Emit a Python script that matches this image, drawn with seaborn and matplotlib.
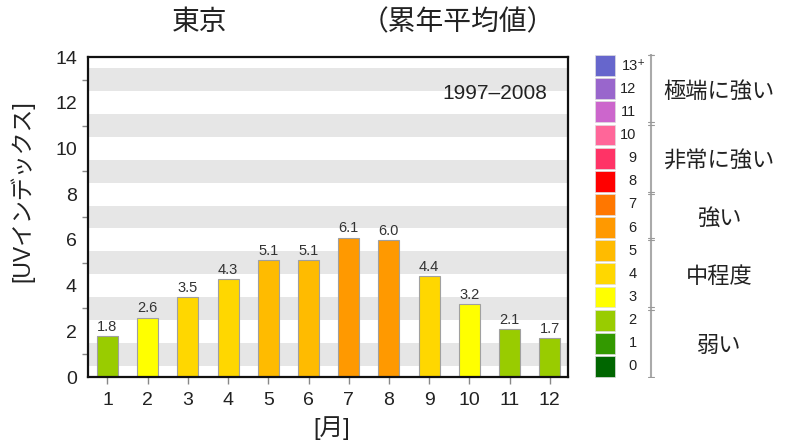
import matplotlib
matplotlib.use("Agg")
import matplotlib.pyplot as plt
import seaborn as sns
import numpy as np

# monthly mean UV index, Tokyo 1997-2008
months = [str(m) for m in range(1, 13)]
uv_index = [1.8, 2.6, 3.5, 4.3, 5.1, 5.1, 6.1, 6.0, 4.4, 3.2, 2.1, 1.7]

# UV index scale (0 .. 13+)
levels = list(range(14))
level_labels = ["0", "1", "2", "3", "4", "5", "6", "7", "8", "9", "10", "11", "12", "13\u207a"]
level_colors = ["#006600", "#339900", "#99cc00", "#ffff00", "#ffd700", "#ffbb00", "#ff9900",
                "#ff7700", "#ff0000", "#ff3366", "#ff6699", "#cc66cc", "#9966cc", "#6666cc"]
groups = ["弱い", "中程度", "強い", "非常に強い", "極端に強い"]
group_ranges = [(0, 2), (3, 5), (6, 7), (8, 10), (11, 13)]

sns.set_style("white")
fonts = ["Liberation Sans", "DejaVu Sans", "Noto Sans CJK JP"]
plt.rcParams["font.family"] = fonts

fig = plt.figure(figsize=(7.95, 4.42), dpi=100)
ax = fig.add_axes([88 / 795, 65 / 442, 480 / 795, 320 / 442])

# grey stripes
for lo in np.arange(0.5, 14, 2):
    ax.axhspan(lo, lo + 1, color="#e6e6e6", lw=0, zorder=0)

palette = {m: level_colors[int(np.floor(v + 0.5))] for m, v in zip(months, uv_index)}
sns.barplot(x=months, y=uv_index, hue=months, palette=palette, legend=False,
            width=0.52, edgecolor="#a0a0a0", linewidth=0.8, saturation=1, ax=ax, zorder=2)
for c in ax.containers:
    ax.bar_label(c, fmt="%.1f", padding=1.5, fontsize=10.5, color="#333333")

ax.set_xlim(-0.485, 11.455)
ax.set_ylim(0, 14)
ax.set_yticks(range(0, 15, 2))
ax.set_yticks(range(1, 14, 2), minor=True)
ax.tick_params(axis="both", which="major", direction="out", length=5, width=1,
               color="#888888", labelsize=14, labelcolor="#222222", pad=3)
ax.tick_params(axis="x", pad=6)
ax.tick_params(axis="y", which="minor", direction="out", length=4, width=1, color="#888888", left=True)
ax.tick_params(axis="x", bottom=True)
for s in ax.spines.values():
    s.set_visible(True)
    s.set_color("#111111")
    s.set_linewidth(1.6)
ax.set_xlabel("")
ax.set_ylabel("")

ax.text(0.957, 0.885, "1997\u20132008", transform=ax.transAxes, ha="right", va="center",
        fontsize=15, color="#222222")

fig.text(200 / 795, 1 - 23 / 442, "東京", ha="center", va="center", fontsize=20, color="#222222")
fig.text(458 / 795, 1 - 23 / 442, "（累年平均値）", ha="center", va="center", fontsize=20, color="#222222")
fig.text(22 / 795, 1 - 191 / 442, "[UVインデックス]", rotation=90, ha="center", va="center",
         fontsize=16.5, color="#222222")
fig.text(332 / 795, 1 - 428 / 442, "[月]", ha="center", va="center", fontsize=17, color="#222222")

# UV scale legend
lg = fig.add_axes([595 / 795, 64 / 442, 200 / 795, 324 / 442])
lg.set_xlim(0, 200)
lg.set_ylim(-0.5, 13.5)
lg.barh(levels, 20, left=0, height=0.9, color=level_colors, edgecolor="#dddddd", linewidth=0.5)
for lv, lab in zip(levels, level_labels):
    if lv < 13:
        lg.text(41.5, lv, lab, ha="right", va="center", fontsize=10.5, color="#222222")
    else:
        lg.text(27, lv, lab, ha="left", va="center", fontsize=10.5, color="#222222")
lg.plot([56, 56], [-0.5, 13.5], color="#aaaaaa", lw=1.5)
for b in [-0.5, 2.5, 5.5, 7.5, 10.5, 13.5]:
    lg.plot([53, 59], [b + 0.05, b + 0.05], color="#999999", lw=0.8)
    lg.plot([53, 59], [b - 0.05, b - 0.05], color="#999999", lw=0.8)
for name, (a, b) in zip(groups, group_ranges):
    lg.text(124, (a + b) / 2 - 0.15, name, ha="center", va="center", fontsize=16, color="#222222")
lg.axis("off")

fig.savefig("out.png", dpi=100)
